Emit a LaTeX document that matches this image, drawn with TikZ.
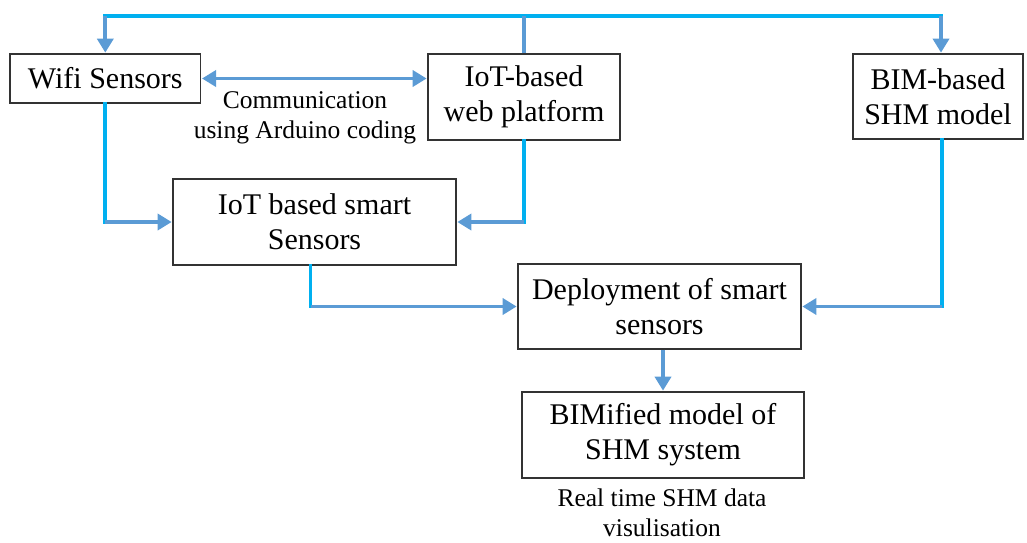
\documentclass[tikz,border=0pt]{standalone}
\usepackage{fontspec}
\setmainfont{Liberation Serif}
\usetikzlibrary{arrows.meta}
\definecolor{cyanline}{HTML}{00B0F0}
\definecolor{blueline}{HTML}{5B9BD5}
\begin{document}
\begin{tikzpicture}[x=1pt,y=1pt,
 box/.style={draw=black!80, line width=1.3pt, inner sep=0pt, align=center, font=\fontsize{30}{35}\selectfont},
 cline/.style={cyanline, line width=3.8pt, line cap=rect},
 bline/.style={blueline, line width=3.8pt},
 tip/.tip={Triangle[width=16pt,length=14pt]},
 aline/.style={bline, -tip, shorten >=0.7pt},
 lbl/.style={align=center, font=\fontsize{25.5}{30}\selectfont, inner sep=0pt}]
\useasboundingbox (0,0) rectangle (1027,-542);
\node[box, minimum width=190.7pt, minimum height=49pt] (wifi) at (105.3,-78.5) {Wifi Sensors};
\node[box, minimum width=192pt, minimum height=86pt] (web) at (524,-97) {IoT-based\\web platform};
\node[box, minimum width=170pt, minimum height=85pt] (bim) at (938,-96.5) {BIM-based\\SHM model};
\node[box, minimum width=283pt, minimum height=86pt] (smart) at (314.5,-222) {IoT based smart\\Sensors};
\node[box, minimum width=283pt, minimum height=85pt] (deploy) at (659.5,-306.5) {Deployment of smart\\sensors};
\node[box, minimum width=282pt, minimum height=86pt] (bimified) at (663,-435) {BIMified model of\\SHM system};
\node[lbl] (comm) at (305,-118) {Communication\\using Arduino coding};
\node[lbl] (rt) at (662,-513) {Real time SHM data\\visulisation};
% top distribution line
\coordinate (top) at (524,-16);
\coordinate (bimin) at ([xshift=3pt]bim.north);
\draw[cline] (top -| wifi.north) -- (top -| bimin);
\draw[bline] (web.north) -- (top);
\draw[aline] (top -| wifi.north) -- (wifi.north);
\draw[aline] (top -| bimin) -- (bimin);
% communication
\draw[bline, tip-tip, shorten <=0.7pt, shorten >=0.7pt] (wifi.east) -- (wifi.east -| web.west);
% wifi -> smart
\draw[cline] (wifi.south) -- (wifi.south |- smart.west);
\draw[aline] (wifi.south |- smart.west) -- (smart.west);
% web -> smart
\draw[cline] (web.south) -- (web.south |- smart.east);
\draw[aline] (web.south |- smart.east) -- (smart.east);
% smart -> deploy
\coordinate (smout) at ([xshift=-4pt]smart.south);
\draw[cline] (smout) -- (smout |- deploy.west);
\draw[aline] (smout |- deploy.west) -- (deploy.west);
% bim -> deploy
\coordinate (bimout) at ([xshift=4pt]bim.south);
\draw[cline] (bimout) -- (bimout |- deploy.east);
\draw[aline] (bimout |- deploy.east) -- (deploy.east);
% deploy -> bimified
\draw[aline] (bimified.north |- deploy.south) -- (bimified.north);
\end{tikzpicture}
\end{document}
